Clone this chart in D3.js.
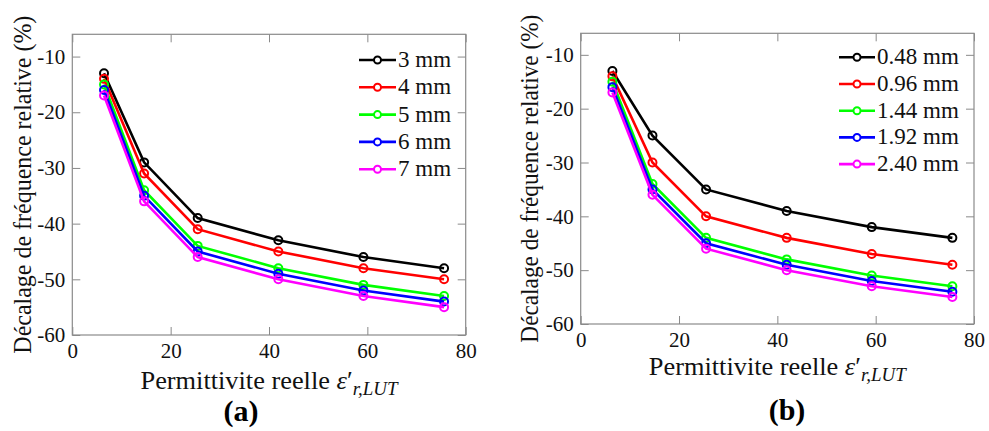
<!DOCTYPE html>
<html>
<head>
<meta charset="utf-8">
<script src="https://d3js.org/d3.v7.min.js"></script>
<style>
  body { margin: 0; background: #fff; }
</style>
</head>
<body>
<script>
// permittivity values (x) shared by both panels
var permittivity = [6.45, 14.6, 25.5, 41.9, 59.2, 75.6];

var seriesA = ["3 mm", "4 mm", "5 mm", "6 mm", "7 mm"];
var valuesA = [
  [-13, -29, -39, -43, -46, -48],
  [-14, -31, -41, -45, -48, -50],
  [-15, -34, -44, -48, -51, -53],
  [-16, -35, -45, -49, -52, -54],
  [-17, -36, -46, -50, -53, -55]
];

var seriesB = ["0.48 mm", "0.96 mm", "1.44 mm", "1.92 mm", "2.40 mm"];
var valuesB = [
  [-13, -25, -35, -39, -42, -44],
  [-14, -30, -40, -44, -47, -49],
  [-15, -34, -44, -48, -51, -53],
  [-16, -35, -45, -49, -52, -54],
  [-17, -36, -46, -50, -53, -55]
];

var colors = ["#000000", "#ff0000", "#00ff00", "#0000ff", "#ff00ff"];
var xTicks = [0, 20, 40, 60, 80];
var yTicks = [-60, -50, -40, -30, -20, -10];

var W = 989, H = 431;
var FONT = "'Liberation Serif', 'Times New Roman', serif";
var svg = d3.select("body").append("svg").attr("width", W).attr("height", H);

function serif(sel, size) {
  return sel.style("font-family", FONT).style("font-size", size + "px").attr("fill", "#111");
}

function drawPanel(p) {
  var x = d3.scaleLinear().domain([0, 80]).range([p.left, p.right]);
  var y = d3.scaleLinear().domain([-60, -6]).range([p.bottom, p.top]);
  var g = svg.append("g");
  var axisColor = "#8a8a8a";
  var fmt = function (d) { return String(d); };

  // axes, ticks pointing inward, box drawn separately
  var gx = g.append("g").attr("transform", "translate(0," + p.bottom + ")")
    .call(d3.axisBottom(x).tickValues(xTicks).tickFormat(fmt).tickSizeInner(-8).tickSizeOuter(0).tickPadding(p.xPad));
  var gxt = g.append("g").attr("transform", "translate(0," + p.top + ")")
    .call(d3.axisTop(x).tickValues(xTicks).tickSizeInner(-8).tickSizeOuter(0).tickFormat(""));
  var gy = g.append("g").attr("transform", "translate(" + p.left + ",0)")
    .call(d3.axisLeft(y).tickValues(yTicks).tickFormat(fmt).tickSizeInner(-8).tickSizeOuter(0).tickPadding(7));
  var gyr = g.append("g").attr("transform", "translate(" + p.right + ",0)")
    .call(d3.axisRight(y).tickValues(yTicks).tickSizeInner(-8).tickSizeOuter(0).tickFormat(""));

  [gx, gxt, gy, gyr].forEach(function (a) {
    a.select(".domain").remove();
    a.selectAll("line").attr("stroke", axisColor);
    serif(a.selectAll("text"), 21);
  });

  g.append("rect")
    .attr("x", p.left).attr("y", p.top)
    .attr("width", p.right - p.left).attr("height", p.bottom - p.top)
    .attr("fill", "none").attr("stroke", axisColor).attr("stroke-width", 1.2);

  var line = d3.line()
    .x(function (d, i) { return x(permittivity[i]); })
    .y(function (d) { return y(d); });

  p.values.forEach(function (vals, k) {
    g.append("path").datum(vals)
      .attr("d", line).attr("fill", "none")
      .attr("stroke", colors[k]).attr("stroke-width", 2.6);
    g.selectAll(".pt" + k).data(vals).enter().append("circle")
      .attr("cx", function (d, i) { return x(permittivity[i]); })
      .attr("cy", function (d) { return y(d); })
      .attr("r", 4).attr("fill", "none")
      .attr("stroke", colors[k]).attr("stroke-width", 2);
  });

  // legend
  p.names.forEach(function (name, k) {
    var ly = p.legY + k * p.legStep;
    g.append("line").attr("x1", p.legX1).attr("x2", p.legX2).attr("y1", ly).attr("y2", ly)
      .attr("stroke", colors[k]).attr("stroke-width", 2.6);
    g.append("circle").attr("cx", (p.legX1 + p.legX2) / 2).attr("cy", ly).attr("r", 3.5)
      .attr("fill", "#fff").attr("stroke", colors[k]).attr("stroke-width", 2);
    serif(g.append("text"), 23).attr("x", p.legX2 + 2).attr("y", ly + 7).text(name);
  });

  // y label
  serif(g.append("text"), 25)
    .attr("transform", "translate(" + p.yLabX + "," + ((p.top + p.bottom) / 2) + ") rotate(-90)")
    .attr("text-anchor", "middle")
    .attr("textLength", p.yLabLen).attr("lengthAdjust", "spacingAndGlyphs")
    .text("Décalage de fréquence relative (%)");

  // x label
  var xl = serif(g.append("text"), 25)
    .attr("x", (p.left + p.right) / 2).attr("y", p.xLabY)
    .attr("text-anchor", "middle")
    .attr("textLength", p.xLabLen).attr("lengthAdjust", "spacingAndGlyphs");
  xl.append("tspan").text("Permittivite reelle ");
  xl.append("tspan").style("font-style", "italic").text("ε");
  xl.append("tspan").text("′");
  xl.append("tspan").attr("dy", 6).style("font-style", "italic").style("font-size", "18px").text("r,LUT");

  // panel tag
  serif(g.append("text"), 30).attr("x", p.tagX).attr("y", p.tagY)
    .attr("text-anchor", "middle").style("font-weight", "bold")
    .attr("fill", "#000").text(p.tag);
}

drawPanel({
  left: 72.3, right: 465.7, top: 34.3, bottom: 335, xPad: 8,
  values: valuesA, names: seriesA,
  legX1: 359, legX2: 396, legY: 60, legStep: 27.3,
  yLabX: 31, yLabLen: 338, xLabY: 389, xLabLen: 257,
  tag: "(a)", tagX: 241, tagY: 421
});

drawPanel({
  left: 580.7, right: 974, top: 33.3, bottom: 324, xPad: 8,
  values: valuesB, names: seriesB,
  legX1: 839, legX2: 875, legY: 57.3, legStep: 26.7,
  yLabX: 538, yLabLen: 328, xLabY: 375, xLabLen: 257,
  tag: "(b)", tagX: 787, tagY: 420
});
</script>
</body>
</html>
